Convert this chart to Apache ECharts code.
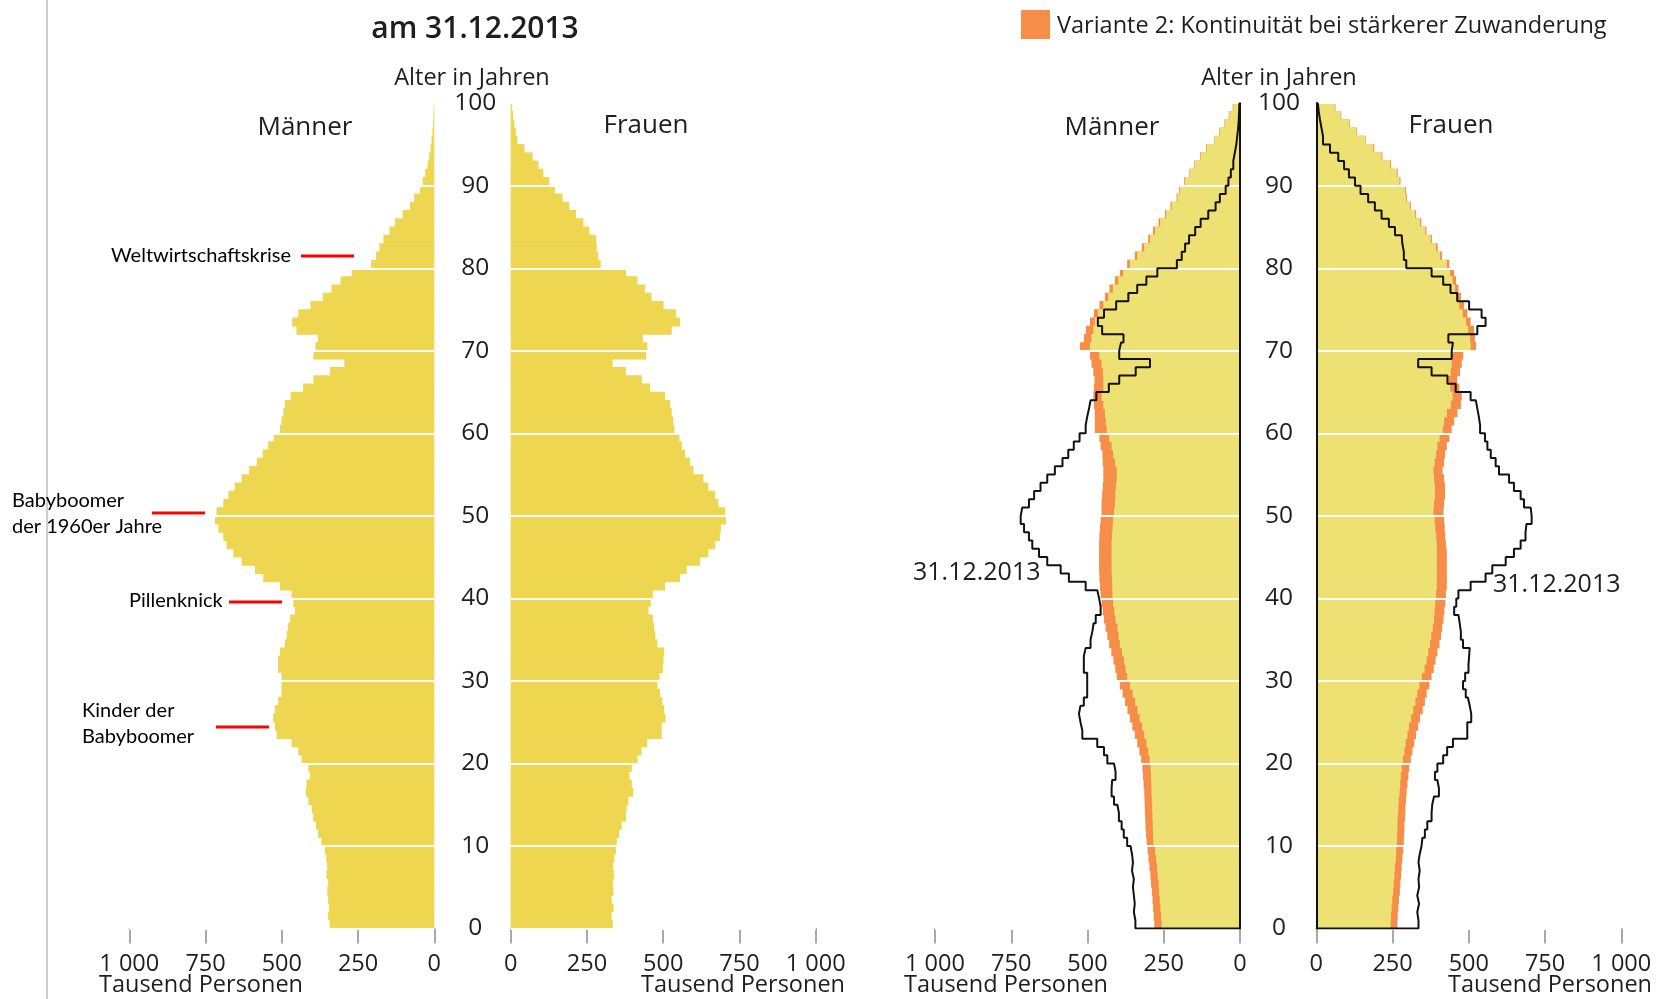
<!DOCTYPE html>
<html>
<head>
<meta charset="utf-8">
<script src="https://cdn.jsdelivr.net/npm/echarts@6/dist/echarts.min.js"></script>
<style>
  html, body { margin: 0; padding: 0; background: #fff; }
  #chart { width: 1657px; height: 999px; }
</style>
</head>
<body>
<div id="chart"></div>
<script>
'use strict';

// Alter 0..99 (Balken), Achse geht bis 100
var ages = [];
for (var a = 0; a < 100; a++) { ages.push(String(a)); }
var personTicks = [0, 250, 500, 750, 1000];

// Bevölkerung am 31.12.2013, Tausend Personen, Index = Alter
var men2013 = [
  343, 348, 345, 348, 351, 348, 354, 351, 354, 359,
  370, 381, 388, 397, 402, 413, 421, 419, 408, 413,
  435, 446, 468, 517, 523, 528, 523, 512, 501, 501,
  501, 512, 512, 506, 490, 484, 480, 473, 457, 462,
  468, 506, 561, 588, 632, 659, 681, 692, 708, 719,
  714, 692, 675, 654, 632, 607, 582, 563, 545, 526,
  506, 501, 495, 490, 471, 430, 396, 342, 295, 396,
  390, 382, 452, 466, 446, 406, 366, 337, 307, 271,
  207, 191, 180, 167, 147, 129, 104, 80, 66, 47,
  38, 30, 22, 17, 12, 9, 6, 4, 3, 2
];
var women2013 = [
  335, 331, 337, 331, 337, 335, 339, 335, 339, 345,
  348, 356, 364, 378, 380, 386, 402, 397, 389, 397,
  416, 429, 448, 495, 495, 508, 503, 497, 490, 481,
  488, 499, 501, 503, 481, 474, 470, 466, 452, 459,
  466, 506, 555, 577, 621, 648, 670, 686, 689, 706,
  703, 681, 670, 648, 632, 599, 588, 572, 561, 553,
  537, 533, 528, 523, 506, 457, 430, 378, 334, 444,
  448, 433, 528, 555, 542, 501, 462, 440, 416, 378,
  295, 287, 282, 280, 258, 238, 214, 192, 170, 145,
  127, 107, 91, 72, 45, 22, 17, 12, 8, 5
];

// Vorausberechnung: Variante 1 (gelb) und Variante 2 (orange)
var menV1 = [
  257, 259, 261, 263, 265, 267, 270, 272, 275, 279,
  284, 285, 286, 287, 288, 289, 290, 291, 292, 293,
  296, 301, 307, 314, 321, 329, 336, 344, 352, 361,
  370, 375, 380, 387, 394, 398, 402, 408, 412, 416,
  418, 419, 420, 421, 421, 421, 421, 420, 418, 416,
  413, 410, 409, 407, 404, 404, 410, 416, 421, 429,
  437, 440, 443, 448, 454, 448, 448, 450, 454, 461,
  492, 487, 481, 476, 465, 448, 432, 417, 399, 383,
  361, 337, 315, 295, 279, 262, 242, 224, 205, 197,
  180, 164, 148, 129, 109, 82, 66, 49, 35, 22
];
var menV2 = [
  281, 283, 285, 287, 289, 292, 294, 297, 300, 303,
  306, 308, 310, 311, 312, 313, 314, 316, 318, 320,
  324, 330, 337, 345, 353, 361, 369, 377, 385, 394,
  404, 409, 415, 422, 429, 435, 441, 446, 450, 454,
  457, 459, 461, 462, 462, 462, 462, 461, 459, 457,
  454, 454, 452, 450, 448, 448, 450, 451, 457, 461,
  476, 476, 476, 479, 481, 479, 477, 481, 487, 492,
  525, 512, 505, 492, 479, 461, 443, 428, 410, 394,
  370, 345, 322, 301, 285, 267, 246, 228, 208, 200,
  183, 166, 150, 131, 111, 84, 68, 51, 37, 24
];
var womenV1 = [
  244, 245, 247, 249, 252, 254, 256, 258, 261, 262,
  264, 265, 266, 267, 269, 270, 273, 275, 277, 280,
  284, 289, 293, 299, 304, 311, 318, 325, 331, 338,
  346, 355, 362, 367, 373, 377, 382, 386, 388, 390,
  393, 395, 395, 395, 395, 395, 395, 393, 390, 388,
  384, 386, 389, 389, 386, 384, 388, 393, 397, 404,
  415, 419, 428, 441, 447, 439, 433, 441, 444, 447,
  506, 504, 498, 491, 480, 469, 460, 455, 447, 439,
  428, 406, 393, 375, 357, 340, 324, 307, 294, 291,
  273, 264, 242, 214, 187, 160, 132, 108, 80, 61
];
var womenV2 = [
  266, 267, 269, 271, 274, 276, 278, 280, 282, 285,
  287, 288, 289, 291, 292, 294, 296, 299, 302, 305,
  310, 315, 321, 327, 334, 340, 349, 356, 362, 371,
  378, 385, 391, 397, 404, 409, 413, 417, 420, 423,
  425, 428, 428, 428, 428, 428, 425, 423, 421, 419,
  417, 419, 422, 422, 419, 414, 419, 422, 428, 436,
  444, 452, 463, 474, 477, 469, 462, 471, 477, 482,
  524, 520, 517, 506, 495, 484, 474, 466, 458, 452,
  436, 412, 398, 379, 361, 344, 327, 310, 297, 294,
  276, 267, 245, 217, 190, 162, 134, 110, 82, 63
];

var COL_BAR = '#efd650';
var COL_V1 = '#ede173';
var COL_V2 = '#f68d48';
var TXT = '#1e1e1e';
var FONT = '"Open Sans", "DejaVu Sans", sans-serif';
var NOTE_FONT = 'Lato, "Open Sans", sans-serif';

// Treppenkurve (Umriss) aus den Werten je Altersjahr
function outline(vals) {
  var pts = [[0, 0]];
  vals.forEach(function (v, i) {
    pts.push([v, i]);
    pts.push([v, i + 1]);
  });
  pts.push([0, vals.length]);
  return pts;
}

var GT = 103.2, GH = 825.3, GW = 305;
var grids = [
  { left: 129.3, top: GT, width: GW, height: GH },
  { left: 510.7, top: GT, width: GW, height: GH },
  { left: 935, top: GT, width: GW, height: GH },
  { left: 1316.3, top: GT, width: GW, height: GH }
];

function xAx(i, inverse) {
  return {
    type: 'value', gridIndex: i, min: 0, max: 1000, interval: 250, inverse: inverse,
    offset: 4,
    axisLine: { show: true, lineStyle: { color: '#a8a8a8', width: 2 } },
    axisTick: { show: true, length: 15, lineStyle: { color: '#a8a8a8', width: 2 } },
    axisLabel: {
      margin: 20, fontSize: 23.5, color: TXT, fontFamily: FONT,
      formatter: function (v) { return personTicks.indexOf(v) < 0 ? '' : (v >= 1000 ? '1 000' : String(v)); }
    },
    splitLine: { show: false }
  };
}

var yAxes = [];
[0, 1, 2, 3].forEach(function (i) {
  yAxes.push({ type: 'category', gridIndex: i, data: ages, show: false });
  var right = i === 0 || i === 2;
  yAxes.push({
    type: 'value', gridIndex: i, min: 0, max: 100, interval: 10, z: 3,
    position: right ? 'right' : 'left',
    axisLine: { show: i >= 2, onZero: false, lineStyle: { color: '#111', width: 2 } },
    axisTick: { show: false },
    axisLabel: {
      show: right, align: 'center', margin: i === 0 ? 41 : 39,
      fontSize: 24.5, color: TXT, fontFamily: FONT
    },
    splitLine: { show: true, lineStyle: { color: '#ffffff', width: 2 } }
  });
});

// Balken leicht breiter als das Band, damit keine Fugen entstehen
function bars(name, data, grid, color) {
  return {
    name: name, type: 'bar', xAxisIndex: grid, yAxisIndex: grid * 2,
    data: data, barWidth: 9, barGap: '-100%',
    itemStyle: { color: color },
    silent: true
  };
}

function stepLine(data, grid) {
  return {
    type: 'line', xAxisIndex: grid, yAxisIndex: grid * 2 + 1,
    data: outline(data), symbol: 'none', z: 5,
    lineStyle: { color: '#111', width: 2 }, silent: true
  };
}

function txt(x, y, s, opt) {
  opt = opt || {};
  return {
    type: 'text', x: x, y: y, silent: true, z: 20,
    style: {
      text: s, fill: opt.color || TXT, font: (opt.weight || 'normal') + ' ' + (opt.size || 23.5) + 'px ' + (opt.family || FONT),
      textAlign: opt.align || 'center', textVerticalAlign: 'middle'
    }
  };
}

function redLine(x1, x2, y) {
  return { type: 'line', silent: true, z: 20, shape: { x1: x1, y1: y, x2: x2, y2: y }, style: { stroke: '#ff0000', lineWidth: 3 } };
}

var note = { size: 20, align: 'left', family: NOTE_FONT, color: '#000' };

var option = {
  backgroundColor: '#ffffff',
  animation: false,
  grid: grids,
  xAxis: [xAx(0, true), xAx(1, false), xAx(2, true), xAx(3, false)],
  yAxis: yAxes,
  series: [
    bars('Männer 2013', men2013, 0, COL_BAR),
    bars('Frauen 2013', women2013, 1, COL_BAR),
    bars('Männer Variante 2', menV2, 2, COL_V2),
    bars('Männer Variante 1', menV1, 2, COL_V1),
    bars('Frauen Variante 2', womenV2, 3, COL_V2),
    bars('Frauen Variante 1', womenV1, 3, COL_V1),
    stepLine(men2013, 2),
    stepLine(women2013, 3)
  ],
  graphic: [
    { type: 'line', silent: true, shape: { x1: 47, y1: 0, x2: 47, y2: 999 }, style: { stroke: '#cfcfcf', lineWidth: 2 } },
    txt(475, 29, 'am 31.12.2013', { size: 30, weight: '600' }),
    txt(472, 78, 'Alter in Jahren'),
    txt(1279, 78, 'Alter in Jahren'),
    txt(305, 128, 'Männer', { size: 26 }),
    txt(646, 126, 'Frauen', { size: 26 }),
    txt(1112, 128, 'Männer', { size: 26 }),
    txt(1451, 126, 'Frauen', { size: 26 }),
    { type: 'rect', silent: true, shape: { x: 1021, y: 10, width: 29, height: 29 }, style: { fill: COL_V2 } },
    txt(1057, 26, 'Variante 2: Kontinuität bei stärkerer Zuwanderung', { size: 23.5, align: 'left' }),
    txt(99, 985, 'Tausend Personen', { align: 'left' }),
    txt(845, 985, 'Tausend Personen', { align: 'right' }),
    txt(904, 985, 'Tausend Personen', { align: 'left' }),
    txt(1652, 985, 'Tausend Personen', { align: 'right' }),
    txt(913, 573, '31.12.2013', { size: 25, align: 'left' }),
    txt(1493, 585, '31.12.2013', { size: 25, align: 'left' }),
    txt(291, 256, 'Weltwirtschaftskrise', { size: 20, align: 'right', family: NOTE_FONT, color: '#000' }),
    redLine(301, 354, 256),
    txt(12, 501, 'Babyboomer', note),
    txt(12, 527, 'der 1960er Jahre', note),
    redLine(152, 205, 513),
    txt(129, 601, 'Pillenknick', note),
    redLine(229, 282, 602),
    txt(82, 711, 'Kinder der', note),
    txt(82, 737, 'Babyboomer', note),
    redLine(216, 269, 727)
  ]
};

var myChart = echarts.init(document.getElementById('chart'), null, { renderer: 'canvas' });
myChart.setOption(option);
</script>
</body>
</html>
